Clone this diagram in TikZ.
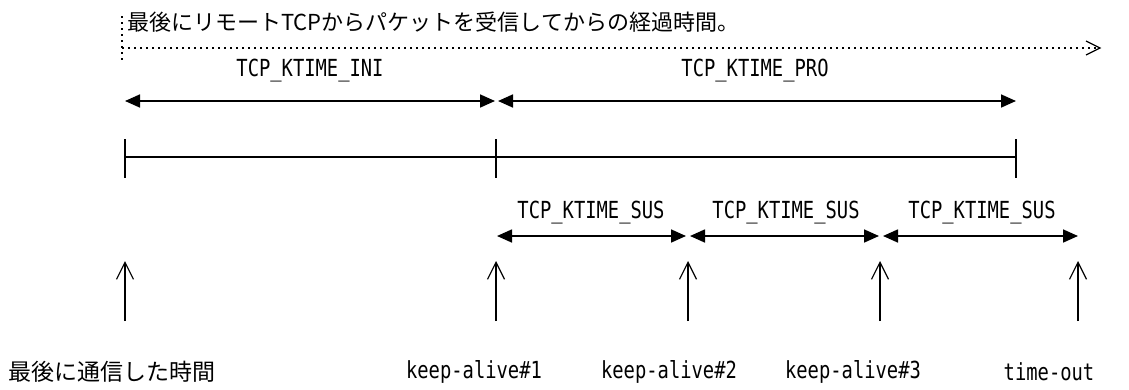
\documentclass[tikz,border=0pt]{standalone}
\usepackage{fontspec}
\newfontfamily\jpfont{Noto Sans CJK JP}
\newfontfamily\latfont[FakeStretch=0.8]{DejaVu Sans Mono}
\usetikzlibrary{arrows.meta,calc}
\begin{document}
\begin{tikzpicture}[x=1pt,y=-1pt,
  lab/.style={font=\latfont\fontsize{23.5}{23.5}\selectfont, inner sep=0pt},
  jlab/.style={font=\jpfont\fontsize{22}{22}\selectfont, inner sep=0pt},
  dim/.style={line width=1.7pt, {Triangle[length=15pt,width=13pt]}-{Triangle[length=15pt,width=13pt]}},
  uparrow/.style={line width=1.2pt, -{Straight Barb[length=17pt,width=17pt,line width=1.2pt]}},
  tick/.style={line width=1.5pt},
  dots/.style={line width=1.2pt, dash pattern=on 1.5pt off 4.5pt}]
\useasboundingbox (0,0) rectangle (1129,389);
% title
\node[jlab, anchor=west] (title) at (127,22) {最後にリモートTCPからパケットを受信してからの経過時間。};
\coordinate (d0) at (122,48);
\coordinate (d1) at (1100,48);
\coordinate (v0) at (122,16);
\coordinate (v1) at (122,64);
\draw[dots] (v0) -- (v1);
\draw[dots] (d0) -- (d1);
\draw[line width=1.2pt] ($(d1)+(-14,-7)$) -- (d1) -- ($(d1)+(-14,7)$);
% INI / PRO
\coordinate (i0) at (125,101);
\coordinate (i1) at (496,101);
\coordinate (p0) at (497,101);
\coordinate (p1) at (1016,101);
\node[lab] (ini) at (310,71) {TCP\_KTIME\_INI};
\node[lab] (pro) at (755,71) {TCP\_KTIME\_PRO};
\draw[dim] (i0) -- ([xshift=-1pt]i1);
\draw[dim] ([xshift=1pt]p0) -- (p1);
% timeline
\coordinate (t0) at (125,157);
\coordinate (t1) at (496,157);
\coordinate (t2) at (1016,157);
\draw[tick] (t0) -- (t2);
\foreach \t in {t0,t1,t2} {
  \draw[tick] ($(\t)+(0,-18)$) -- ($(\t)+(0,21)$);
}
% SUS
\coordinate (s0) at (496,236);
\coordinate (s1) at (688,236);
\coordinate (s2) at (881,236);
\coordinate (s3) at (1078,236);
\node[lab] (sus1) at (591,213) {TCP\_KTIME\_SUS};
\node[lab] (sus2) at (786,213) {TCP\_KTIME\_SUS};
\node[lab] (sus3) at (982,213) {TCP\_KTIME\_SUS};
\draw[dim] ([xshift=1pt]s0) -- ([xshift=-2pt]s1);
\draw[dim] ([xshift=2pt]s1) -- ([xshift=-2pt]s2);
\draw[dim] ([xshift=2pt]s2) -- (s3);
% up arrows
\foreach \n/\x in {a0/125,a1/496,a2/688,a3/880,a4/1078} {
  \coordinate (\n b) at (\x,321);
  \coordinate (\n t) at (\x,261);
  \draw[uparrow] (\n b) -- (\n t);
}
% bottom labels
\node[jlab, anchor=west, font=\jpfont\fontsize{23}{23}\selectfont] (last) at (8,372) {最後に通信した時間};
\node[lab] (ka1) at (474,372) {keep-alive\#1};
\node[lab] (ka2) at (669,372) {keep-alive\#2};
\node[lab] (ka3) at (853,372) {keep-alive\#3};
\node[lab] (to) at (1049,372) {time-out};
\end{tikzpicture}
\end{document}
